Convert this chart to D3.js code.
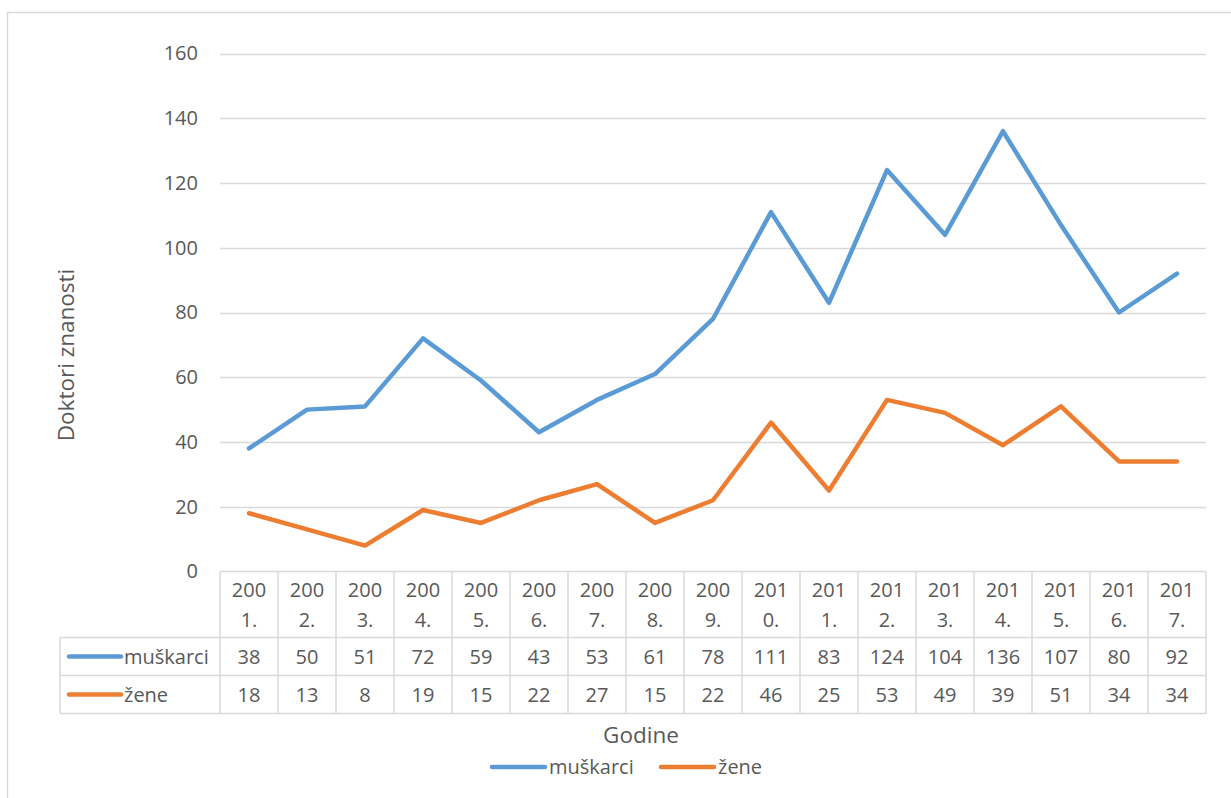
<!DOCTYPE html>
<html>
<head>
<meta charset="utf-8">
<script src="https://cdn.jsdelivr.net/npm/d3@7"></script>
<style>
  html, body { margin: 0; padding: 0; background: #fff; }
  svg { display: block; }
  text { font-family: "Open Sans", "Noto Sans", sans-serif; fill: #595959; }
</style>
</head>
<body>
<script>
const years = ["2001.", "2002.", "2003.", "2004.", "2005.", "2006.", "2007.", "2008.", "2009.",
  "2010.", "2011.", "2012.", "2013.", "2014.", "2015.", "2016.", "2017."];
const muskarci = [38, 50, 51, 72, 59, 43, 53, 61, 78, 111, 83, 124, 104, 136, 107, 80, 92];
const zene = [18, 13, 8, 19, 15, 22, 27, 15, 22, 46, 25, 53, 49, 39, 51, 34, 34];
const seriesNames = ["muškarci", "žene"];
const yTicks = [0, 20, 40, 60, 80, 100, 120, 140, 160];
const yTitle = "Doktori znanosti";
const xTitle = "Godine";

(function () {
const colors = ["#5b9bd5", "#ed7d31"];
const seriesValues = [muskarci, zene];
const FS = "20px", FT = "22.5px";

const W = 1231, H = 798;
const svg = d3.select("body").append("svg").attr("width", W).attr("height", H);

svg.append("rect").attr("x", 7.5).attr("y", 12.5).attr("width", W + 10).attr("height", H + 10)
  .attr("fill", "none").attr("stroke", "#d9d9d9").attr("stroke-width", 1.5);

const pLeft = 220, pRight = 1206, pTop = 53.5, pBottom = 571.5;
const x = d3.scaleBand().domain(years).range([pLeft, pRight]).padding(0);
const y = d3.scaleLinear().domain([0, 160]).range([pBottom, pTop]);

svg.append("g").selectAll("line").data(yTicks.filter(d => d > 0)).join("line")
  .attr("x1", pLeft).attr("x2", pRight)
  .attr("y1", d => Math.round(y(d)) + 0.5).attr("y2", d => Math.round(y(d)) + 0.5)
  .attr("stroke", "#d9d9d9").attr("stroke-width", 1.3);

const yAxis = svg.append("g").attr("transform", `translate(${pLeft - 22},0)`)
  .call(d3.axisLeft(y).tickValues(yTicks).tickSize(0).tickPadding(0));
yAxis.select(".domain").remove();
yAxis.selectAll("text").style("font-size", FS).attr("fill", "#595959")
  .style("font-family", "'Open Sans', 'Noto Sans', sans-serif");

svg.append("text").attr("transform", `translate(74,${355}) rotate(-90)`)
  .attr("text-anchor", "middle").style("font-size", FT).text(yTitle);

const line = d3.line().x((d, i) => x(years[i]) + x.bandwidth() / 2).y(d => y(d));
seriesValues.forEach((vals, k) => {
  svg.append("path").datum(vals).attr("d", line)
    .attr("fill", "none").attr("stroke", colors[k]).attr("stroke-width", 4.5)
    .attr("stroke-linejoin", "round").attr("stroke-linecap", "round");
});

const tblLeft = 60, r0 = 571.5, r1 = 637.5, r2 = 675.5, r3 = 713.5;
const tg = svg.append("g");
const gridColor = "#d9d9d9";
tg.append("line").attr("x1", pLeft).attr("x2", pRight).attr("y1", r0).attr("y2", r0).attr("stroke", gridColor).attr("stroke-width", 1.5);
[r1, r2, r3].forEach(r => tg.append("line").attr("x1", tblLeft).attr("x2", pRight).attr("y1", r).attr("y2", r).attr("stroke", gridColor).attr("stroke-width", 1.5));
const bounds = years.map(d => x(d)).concat([pRight]);
bounds.forEach(b => tg.append("line").attr("x1", b).attr("x2", b).attr("y1", r0).attr("y2", r3).attr("stroke", gridColor).attr("stroke-width", 1.5));
tg.append("line").attr("x1", tblLeft).attr("x2", tblLeft).attr("y1", r1).attr("y2", r3).attr("stroke", gridColor).attr("stroke-width", 1.5);

years.forEach(yr => {
  const cx = x(yr) + x.bandwidth() / 2;
  tg.append("text").attr("x", cx).attr("y", 597).attr("text-anchor", "middle").style("font-size", FS).text(yr.slice(0, 3));
  tg.append("text").attr("x", cx).attr("y", 627).attr("text-anchor", "middle").style("font-size", FS).text(yr.slice(3));
});
const rowMid = [(r1 + r2) / 2, (r2 + r3) / 2];
seriesValues.forEach((vals, k) => {
  vals.forEach((v, i) => {
    tg.append("text").attr("x", x(years[i]) + x.bandwidth() / 2).attr("y", rowMid[k] + 7)
      .attr("text-anchor", "middle").style("font-size", FS).text(v);
  });
  tg.append("line").attr("x1", 69).attr("x2", 121).attr("y1", rowMid[k]).attr("y2", rowMid[k])
    .attr("stroke", colors[k]).attr("stroke-width", 4.5).attr("stroke-linecap", "round");
  tg.append("text").attr("x", 124).attr("y", rowMid[k] + 7).style("font-size", FS).text(seriesNames[k]);
});

svg.append("text").attr("x", 641).attr("y", 743).attr("text-anchor", "middle").style("font-size", FT).text(xTitle);

const legendItems = [{x: 492, name: seriesNames[0], c: colors[0]}, {x: 661, name: seriesNames[1], c: colors[1]}];
legendItems.forEach(it => {
  svg.append("line").attr("x1", it.x).attr("x2", it.x + 53).attr("y1", 767).attr("y2", 767)
    .attr("stroke", it.c).attr("stroke-width", 4.5).attr("stroke-linecap", "round");
  svg.append("text").attr("x", it.x + 57).attr("y", 774).style("font-size", FS).text(it.name);
});
})();
</script>
</body>
</html>
